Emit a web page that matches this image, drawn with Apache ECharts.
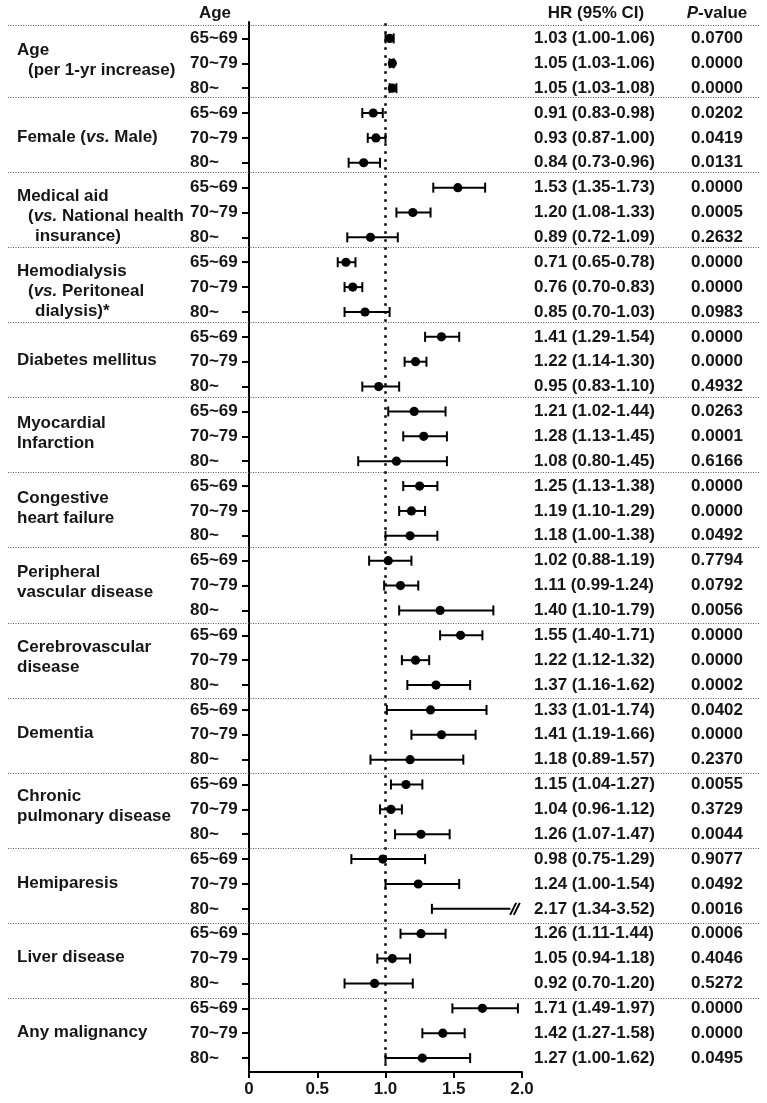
<!DOCTYPE html>
<html><head><meta charset="utf-8">
<script src="https://cdn.jsdelivr.net/npm/echarts@6/dist/echarts.min.js"></script>
<style>html,body{margin:0;padding:0;background:#fff}#c{width:767px;height:1103px}</style>
</head><body><div id="c"></div>
<script>
// ---- data ----
const ageGroups = ['65~69', '70~79', '80~'];
const groupLines = [
  ['Age', '(per 1-yr increase)'],
  ['Female ({i|vs.} Male)'],
  ['Medical aid', '({i|vs.} National health', 'insurance)'],
  ['Hemodialysis', '({i|vs.} Peritoneal', 'dialysis)*'],
  ['Diabetes mellitus'],
  ['Myocardial', 'Infarction'],
  ['Congestive', 'heart failure'],
  ['Peripheral', 'vascular disease'],
  ['Cerebrovascular', 'disease'],
  ['Dementia'],
  ['Chronic', 'pulmonary disease'],
  ['Hemiparesis'],
  ['Liver disease'],
  ['Any malignancy']
];
const hr = [1.03, 1.05, 1.05, 0.91, 0.93, 0.84, 1.53, 1.20, 0.89, 0.71, 0.76, 0.85,
  1.41, 1.22, 0.95, 1.21, 1.28, 1.08, 1.25, 1.19, 1.18, 1.02, 1.11, 1.40,
  1.55, 1.22, 1.37, 1.33, 1.41, 1.18, 1.15, 1.04, 1.26, 0.98, 1.24, 2.17,
  1.26, 1.05, 0.92, 1.71, 1.42, 1.27];
const ciLow = [1.00, 1.03, 1.03, 0.83, 0.87, 0.73, 1.35, 1.08, 0.72, 0.65, 0.70, 0.70,
  1.29, 1.14, 0.83, 1.02, 1.13, 0.80, 1.13, 1.10, 1.00, 0.88, 0.99, 1.10,
  1.40, 1.12, 1.16, 1.01, 1.19, 0.89, 1.04, 0.96, 1.07, 0.75, 1.00, 1.34,
  1.11, 0.94, 0.70, 1.49, 1.27, 1.00];
const ciHigh = [1.06, 1.06, 1.08, 0.98, 1.00, 0.96, 1.73, 1.33, 1.09, 0.78, 0.83, 1.03,
  1.54, 1.30, 1.10, 1.44, 1.45, 1.45, 1.38, 1.29, 1.38, 1.19, 1.24, 1.79,
  1.71, 1.32, 1.62, 1.74, 1.66, 1.57, 1.27, 1.12, 1.47, 1.29, 1.54, 3.52,
  1.44, 1.18, 1.20, 1.97, 1.58, 1.62];
const pValues = ['0.0700', '0.0000', '0.0000', '0.0202', '0.0419', '0.0131',
  '0.0000', '0.0005', '0.2632', '0.0000', '0.0000', '0.0983',
  '0.0000', '0.0000', '0.4932', '0.0263', '0.0001', '0.6166',
  '0.0000', '0.0000', '0.0492', '0.7794', '0.0792', '0.0056',
  '0.0000', '0.0000', '0.0002', '0.0402', '0.0000', '0.2370',
  '0.0055', '0.3729', '0.0044', '0.9077', '0.0492', '0.0016',
  '0.0006', '0.4046', '0.5272', '0.0000', '0.0000', '0.0495'];
const xTicks = [0, 0.5, 1, 1.5, 2];
const xTickLabels = ['0', '0.5', '1.0', '1.5', '2.0'];
const refValue = 1.0;

// ---- layout ----
const FONT = '"Liberation Sans", Arial, sans-serif';
const FS = 17;
const TXT = '#161616';
const X_MAX = 2;
const Y_MIN = -0.66, Y_MAX = 41.56;
const rowIdx = hr.map((_, i) => i);
const richI = { i: { fontStyle: 'italic', fontWeight: 'bold', fontSize: FS, fontFamily: FONT, fill: TXT, color: TXT } };

const chart = echarts.init(document.getElementById('c'), null, { renderer: 'canvas' });

const option = {
  animation: false,
  backgroundColor: '#fff',
  grid: { left: 249, top: 22, width: 273, height: 1050, containLabel: false },
  xAxis: {
    type: 'value', min: 0, max: X_MAX, interval: 0.5,
    axisLine: { show: true, onZero: false, lineStyle: { color: '#000', width: 2 } },
    axisTick: { show: true, length: 6, lineStyle: { color: '#000', width: 2 } },
    splitLine: { show: false },
    axisLabel: {
      formatter: v => { const k = xTicks.findIndex(t => Math.abs(t - v) < 1e-9); return k >= 0 ? xTickLabels[k] : ''; },
      color: TXT, fontSize: FS, fontWeight: 'bold', fontFamily: FONT, margin: 9
    }
  },
  yAxis: {
    type: 'value', inverse: true, min: Y_MIN, max: Y_MAX,
    axisLine: { show: true, onZero: false, lineStyle: { color: '#000', width: 2 } },
    axisTick: { show: true, customValues: rowIdx, length: 7, lineStyle: { color: '#000', width: 2 } },
    axisLabel: {
      customValues: rowIdx,
      formatter: v => ageGroups[Math.round(v) % 3],
      align: 'left', margin: 59,
      color: TXT, fontSize: FS, fontWeight: 'bold', fontFamily: FONT
    },
    splitLine: { show: false }
  },
  graphic: [
    { type: 'text', x: 215, y: 13, style: { text: 'Age', font: `bold ${FS}px ${FONT}`, fill: TXT, align: 'center', verticalAlign: 'middle' } },
    { type: 'text', x: 596, y: 13, style: { text: 'HR (95% CI)', font: `bold ${FS}px ${FONT}`, fill: TXT, align: 'center', verticalAlign: 'middle' } },
    { type: 'text', x: 717, y: 13, style: { text: '{i|P}-value', font: `bold ${FS}px ${FONT}`, fill: TXT, align: 'center', verticalAlign: 'middle', rich: richI } }
  ],
  series: [
    // group separators (dotted)
    {
      type: 'custom', clip: false, silent: true, z: 1,
      data: [-0.54].concat(groupLines.slice(1).map((_, k) => 2.36 + 3.018 * k)).map(r => [0, r]),
      encode: { x: 0, y: 1 },
      renderItem(params, api) {
        const y = Math.round(api.coord([0, api.value(1)])[1]) + 0.5;
        return { type: 'line', shape: { x1: 8, y1: y, x2: 760, y2: y },
          style: { stroke: '#555', lineWidth: 1, lineDash: [1, 1.5] } };
      }
    },
    // reference dotted line at HR = 1
    {
      type: 'custom', clip: false, silent: true, z: 2,
      data: [[refValue, 0]], encode: { x: 0, y: 1 },
      renderItem(params, api) {
        const p1 = api.coord([api.value(0), Y_MIN + 0.05]);
        const p2 = api.coord([api.value(0), Y_MAX]);
        return { type: 'line', shape: { x1: p1[0], y1: p1[1], x2: p2[0], y2: p2[1] },
          style: { stroke: '#000', lineWidth: 2.5, lineDash: [2.5, 5.5], lineCap: 'butt' } };
      }
    },
    // error bars + points
    {
      type: 'custom', clip: false, z: 5,
      data: rowIdx.map(i => [ciLow[i], ciHigh[i], hr[i], i]),
      encode: { x: [0, 1, 2], y: 3 },
      renderItem(params, api) {
        const lo = api.value(0), hi = api.value(1), m = api.value(2), r = api.value(3);
        const y = api.coord([0, r])[1];
        const xl = api.coord([lo, r])[0];
        const broken = hi > X_MAX;
        const xh = api.coord([broken ? 1.915 : hi, r])[0];
        const st = { stroke: '#000', lineWidth: 2 };
        const ch = [
          { type: 'line', shape: { x1: xl, y1: y, x2: xh, y2: y }, style: st },
          { type: 'line', shape: { x1: xl, y1: y - 5, x2: xl, y2: y + 5 }, style: st }
        ];
        if (!broken) {
          ch.push({ type: 'line', shape: { x1: xh, y1: y - 5, x2: xh, y2: y + 5 }, style: st });
        } else {
          [1.935, 1.962].forEach(v => {
            const xs = api.coord([v, r])[0];
            ch.push({ type: 'line', shape: { x1: xs - 3, y1: y + 6, x2: xs + 3, y2: y - 6 }, style: st });
          });
        }
        if (m <= X_MAX) {
          const c = api.coord([m, r]);
          ch.push({ type: 'circle', shape: { cx: c[0], cy: c[1], r: 4.6 }, style: { fill: '#000' } });
        }
        return { type: 'group', children: ch };
      }
    },
    // HR (95% CI) and P-value text columns
    {
      type: 'custom', clip: false, silent: true, z: 5,
      data: rowIdx.map(i => [hr[i], i]), encode: { x: 0, y: 1 },
      renderItem(params, api) {
        const i = params.dataIndex;
        const y = api.coord([0, api.value(1)])[1];
        const t = `${hr[i].toFixed(2)} (${ciLow[i].toFixed(2)}-${ciHigh[i].toFixed(2)})`;
        return { type: 'group', children: [
          { type: 'text', x: 534, y: y, style: { text: t, font: `bold ${FS}px ${FONT}`, fill: TXT, align: 'left', verticalAlign: 'middle' } },
          { type: 'text', x: 717, y: y, style: { text: pValues[i], font: `bold ${FS}px ${FONT}`, fill: TXT, align: 'center', verticalAlign: 'middle' } }
        ] };
      }
    },
    // group labels
    {
      type: 'custom', clip: false, silent: true, z: 5,
      data: groupLines.map((_, g) => [0, 3 * g + 1]), encode: { x: 0, y: 1 },
      renderItem(params, api) {
        const lines = groupLines[params.dataIndex];
        const n = lines.length;
        const off = n === 1 ? -1 : (n === 2 ? -3 : 4);
        const lh = 20;
        const yc = api.coord([0, api.value(1)])[1] + off;
        let hasParen = false;
        const ch = lines.map((s, j) => {
          let x = 17;
          if (j > 0) {
            if (s.startsWith('(')) { x = 28; hasParen = true; }
            else if (hasParen) x = 35;
          }
          return { type: 'text', x: x, y: yc + (j - (n - 1) / 2) * lh,
            style: { text: s, font: `bold ${FS}px ${FONT}`, fill: TXT, align: 'left', verticalAlign: 'middle', rich: richI } };
        });
        return { type: 'group', children: ch };
      }
    }
  ]
};
chart.setOption(option);
</script>
</body></html>
